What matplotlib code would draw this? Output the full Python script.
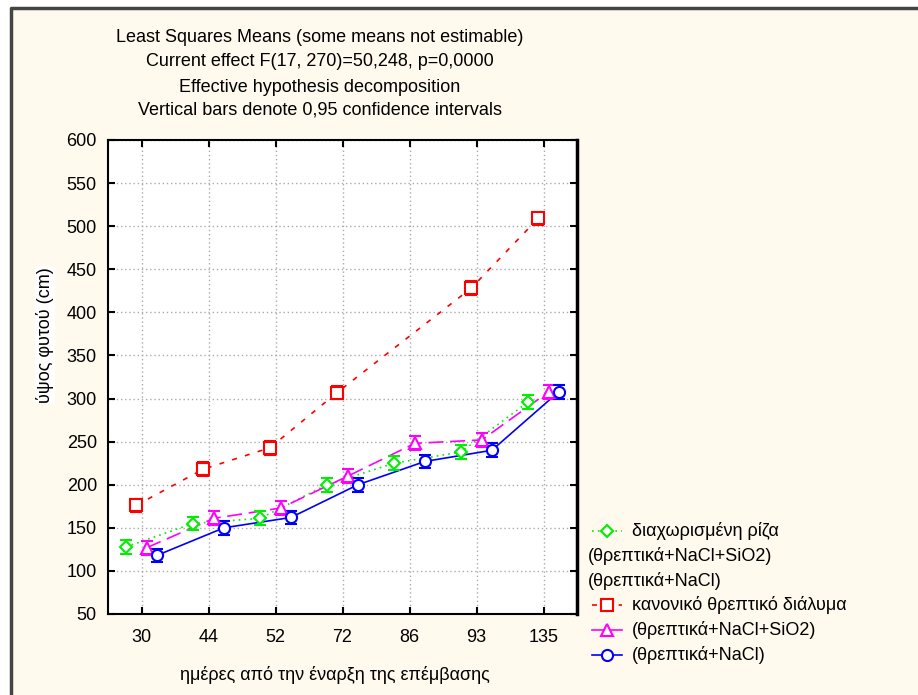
import matplotlib
matplotlib.use('Agg')
import matplotlib.pyplot as plt
import numpy as np

plt.rcParams['font.family'] = ['Liberation Sans', 'DejaVu Sans']
plt.rcParams['font.size'] = 13

days = ['30', '44', '52', '72', '86', '93', '135']
x = np.arange(len(days))

green = [128, 155, 161, 200, 225, 238, 296]       # διαχωρισμένη ρίζα
red_x = [0, 1, 2, 3, 5, 6]                          # 86 not estimable
red = [176, 218, 243, 307, 428, 509]                # κανονικό θρεπτικό διάλυμα
magenta = [127, 161, 173, 210, 248, 252, 308]       # θρεπτικά+NaCl+SiO2
blue = [118, 150, 162, 200, 227, 240, 308]          # θρεπτικά+NaCl
ci = 8

bg = '#fff9ee'
fig = plt.figure(figsize=(9.18, 6.95), dpi=100, facecolor=bg)
ax = fig.add_axes([108/918, 1-614/695, (577-108)/918, (614-140)/695])
ax.set_facecolor('white')

series = [
    (x - 0.23, green, '#00ee00', (0, (1, 2.5)), 'D', 6),
    (np.array(red_x) - 0.08, red, '#ff0000', (0, (3, 5)), 's', 8),
    (x + 0.08, magenta, '#ff00ff', (0, (9, 4)), '^', 8),
    (x + 0.23, blue, '#0000ff', '-', 'o', 8),
]
for xs, ys, c, ls, m, ms in series:
    ax.plot(xs, ys, color=c, linestyle=ls, lw=1.2, zorder=2)
    ax.errorbar(xs, ys, yerr=ci, fmt=m, color=c, mfc='white', mec=c, mew=1.5,
                ms=ms, ecolor=c, elinewidth=1.2, capsize=4, capthick=1.5, zorder=3)

ax.set_xlim(-0.5, 6.5)
ax.set_ylim(50, 600)
ax.set_xticks(x)
ax.set_xticklabels(days)
ax.set_yticks(np.arange(50, 601, 50))
ax.tick_params(direction='in', length=5, width=1.5, top=True, right=True)
ax.tick_params(axis='y', pad=8)
ax.tick_params(axis='x', pad=11)
ax.grid(True, color='#aaaaaa', linestyle=(0, (1, 2)), lw=1)
for s in ax.spines.values():
    s.set_linewidth(1.5)
ax.spines['right'].set_linewidth(2.5)

# titles
for t, yy in zip(['Least Squares Means (some means not estimable)',
                  'Current effect F(17, 270)=50,248, p=0,0000',
                  'Effective hypothesis decomposition',
                  'Vertical bars denote 0,95 confidence intervals'],
                 [37, 62, 87, 110]):
    fig.text(320/918, 1-yy/695, t, ha='center', va='center')

fig.text(335/918, 1-675/695, 'ημέρες από την έναρξη της επέμβασης', ha='center', va='center')
fig.text(45/918, 1-335/695, 'ύψος φυτού (cm)', rotation=90, ha='center', va='center',
         bbox=dict(facecolor='white', edgecolor='none', pad=1))

# overlay in pixel coordinates: frame and legend
lax = fig.add_axes([0, 0, 1, 1], facecolor='none')
lax.set_xlim(0, 918)
lax.set_ylim(695, 0)
lax.axis('off')
lax.add_patch(plt.Rectangle((0, 0), 10, 695, color='white', zorder=0))
lax.add_patch(plt.Rectangle((0, 0), 918, 7, color='white', zorder=0))
lax.plot([11, 11, 918], [695, 8, 8], color='#444444', lw=2.5)

leg = [
    ('διαχωρισμένη ρίζα', '#00ee00', (0, (1, 2.5)), 'D', 6),
    ('(θρεπτικά+NaCl+SiO2)', None, None, None, 0),
    ('(θρεπτικά+NaCl)', None, None, None, 0),
    ('κανονικό θρεπτικό διάλυμα', '#ff0000', (0, (3, 5)), 's', 8),
    ('(θρεπτικά+NaCl+SiO2)', '#ff00ff', '-', '^', 8),
    ('(θρεπτικά+NaCl)', '#0000ff', '-', 'o', 8),
]
for i, (lab, c, ls, m, ms) in enumerate(leg):
    yy = 531 + i * 24.8
    if c is None:
        lax.text(588, yy, lab, ha='left', va='center')
    else:
        lax.plot([592, 622], [yy, yy], color=c, linestyle=ls, lw=1.2)
        lax.plot([607], [yy], marker=m, color=c, mfc='white', mew=1.5, ms=ms)
        lax.text(632, yy, lab, ha='left', va='center')

fig.savefig('out.png', dpi=100, facecolor=bg)
